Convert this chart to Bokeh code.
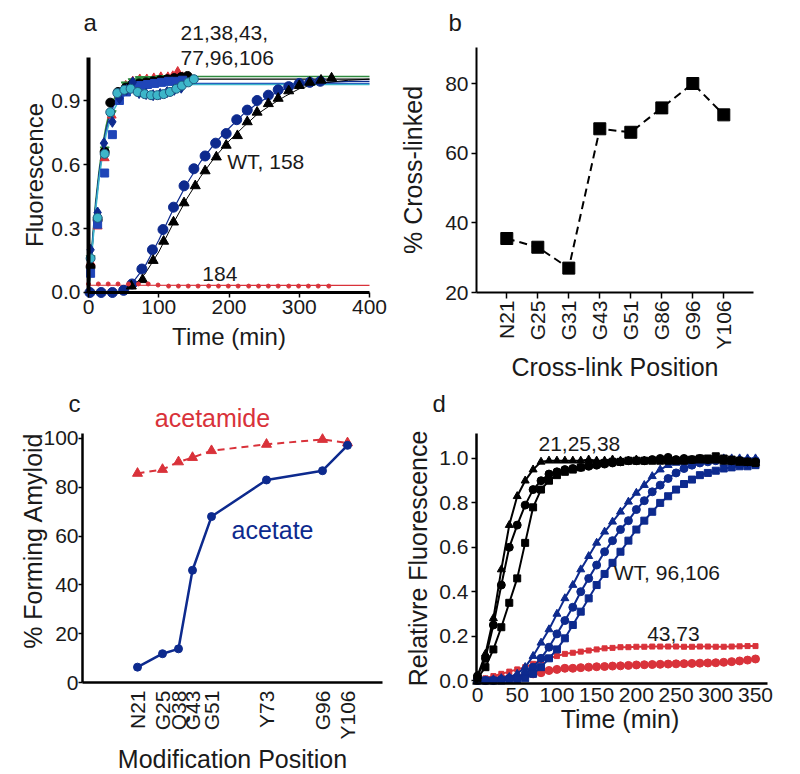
import math
from bokeh.plotting import figure
from bokeh.layouts import row, column
from bokeh.models import FixedTicker, Label, Range1d, NumeralTickFormatter
from bokeh.embed import file_html
from bokeh.resources import INLINE

FONT = "Liberation Sans"
INK = "#1a1a1a"

# ---------------- panel a data ----------------
a_x_ticks = [0, 100, 200, 300, 400]
a_y_ticks = [0.0, 0.3, 0.6, 0.9]

a_black_t = [3, 13, 23, 31, 42, 53, 62, 72, 82, 92, 102, 112, 122, 132, 141]
a_black_v = [0.12, 0.34, 0.66, 0.89, 0.94, 0.96, 0.975, 0.98, 0.985, 0.99, 0.995, 1.0, 1.005, 1.01, 1.015]
a_bsq_t = [3, 13, 23, 34, 44, 54, 64, 74, 84, 94, 104, 114, 124, 134]
a_bsq_v = [0.09, 0.32, 0.56, 0.74, 0.9, 0.94, 0.96, 0.97, 0.975, 0.98, 0.985, 0.99, 0.99, 0.995]
a_red_t = [3, 13, 23, 33, 43, 53, 63, 73, 83, 93, 103, 113, 120, 127, 134]
a_red_v = [0.14, 0.31, 0.63, 0.83, 0.93, 0.97, 0.99, 1.0, 1.0, 1.005, 1.01, 1.01, 1.015, 1.035, 1.01]
a_green_t = [3, 13, 23, 33, 43, 53, 63, 73, 83, 93, 103, 113, 123]
a_green_v = [0.16, 0.34, 0.67, 0.84, 0.94, 0.975, 0.99, 1.0, 1.0, 1.0, 1.005, 1.005, 1.005]
a_dia_t = [3, 13, 22, 34, 44, 54, 63, 72, 82, 92, 102, 112, 122, 132]
a_dia_v = [0.2, 0.375, 0.7, 0.8, 0.91, 0.95, 0.985, 0.935, 0.93, 0.925, 0.93, 0.94, 0.95, 0.96]
a_cyan_t = [3, 13, 23, 31, 41, 51, 60, 70, 80, 89, 98, 107, 116, 125, 133, 142, 150]
a_cyan_v = [0.16, 0.35, 0.65, 0.845, 0.935, 0.95, 0.955, 0.94, 0.93, 0.925, 0.925, 0.93, 0.94, 0.955, 0.97, 0.985, 1.0]

a_fit_t = [0, 5, 10, 15, 20, 25, 30, 35, 40, 50, 60, 80, 100, 150, 400]
a_fit_green = [0, 0.22, 0.42, 0.57, 0.69, 0.78, 0.85, 0.9, 0.93, 0.97, 0.99, 1.005, 1.01, 1.012, 1.012]
a_fit_black = [0, 0.2, 0.4, 0.55, 0.67, 0.76, 0.83, 0.88, 0.92, 0.96, 0.98, 0.995, 1.0, 1.0, 1.0]
a_fit_blue = [0, 0.21, 0.4, 0.55, 0.67, 0.76, 0.82, 0.87, 0.9, 0.94, 0.96, 0.975, 0.978, 0.98, 0.98]
a_fit_cyan = [0, 0.19, 0.38, 0.53, 0.65, 0.74, 0.8, 0.85, 0.88, 0.92, 0.945, 0.965, 0.97, 0.975, 0.975]

a_wt_t = [2, 18, 34, 50, 62, 76, 91, 106, 121, 136, 150, 166, 181, 196, 211, 226, 240, 256, 270, 285, 300, 315, 330]
a_wt_v = [0, 0, 0, 0.01, 0.04, 0.11, 0.2, 0.295, 0.4, 0.5, 0.58, 0.64, 0.7, 0.745, 0.81, 0.855, 0.9, 0.925, 0.95, 0.965, 0.98, 0.985, 0.99]
a_158_t = [61, 77, 92, 107, 121, 136, 152, 166, 182, 196, 212, 226, 240, 256, 270, 285, 300, 315, 331, 346]
a_158_v = [0.03, 0.06, 0.15, 0.24, 0.33, 0.42, 0.5, 0.57, 0.635, 0.69, 0.735, 0.8, 0.845, 0.885, 0.91, 0.945, 0.97, 0.985, 0.995, 1.005]
a_slowfit_t = [45, 60, 80, 100, 120, 140, 160, 180, 200, 220, 240, 260, 280, 300, 320, 340, 370, 400]
a_wtfit_v = [0, 0.035, 0.12, 0.245, 0.385, 0.51, 0.615, 0.7, 0.77, 0.835, 0.885, 0.925, 0.955, 0.97, 0.98, 0.985, 0.99, 0.99]
a_158fit_v = [0, 0.02, 0.085, 0.19, 0.32, 0.44, 0.545, 0.635, 0.71, 0.775, 0.835, 0.88, 0.92, 0.955, 0.975, 0.985, 0.995, 1.0]
a_184_t = [0, 14, 28, 42, 57, 71, 85, 99, 114, 128, 142, 156, 171, 185, 199, 213, 228, 242, 256, 270, 285, 299, 313, 327, 342]
a_184_v = [0.04, 0.04, 0.04, 0.04, 0.04, 0.04, 0.04, 0.035, 0.03, 0.03, 0.03, 0.03, 0.03, 0.03, 0.03, 0.03, 0.03, 0.03, 0.03, 0.03, 0.03, 0.03, 0.03, 0.03, 0.03]
a_184fit_t = [0, 400]
a_184fit_v = [0.034, 0.033]

# ---------------- panel b data ----------------
b_cats = ["N21", "G25", "G31", "G43", "G51", "G86", "G96", "Y106"]
b_vals = [35.5, 33, 27, 67, 66, 73, 80, 71]
b_y_ticks = [20, 40, 60, 80]

# ---------------- panel c data ----------------
c_cats = ["N21", "G25", "Q38", "G43", "G51", "Y73", "G96", "Y106"]
c_pos = [2.2, 3.2, 3.84, 4.4, 5.16, 7.36, 9.6, 10.6]
c_acetate = [6.3, 11.8, 13.8, 46, 68, 83, 86.8, 97.2]
c_acetamide = [85.7, 87.3, 90.4, 92.2, 95, 97.6, 99.6, 98.2]
c_y_ticks = [0, 20, 40, 60, 80, 100]

# ---------------- panel d data ----------------
d_t = [0, 10, 20, 30, 40, 50, 60, 70, 80, 90, 100, 110, 120, 130, 140, 150, 160, 170,
       180, 190, 200, 210, 220, 230, 240, 250, 260, 270, 280, 290, 300, 310, 320, 330, 340, 350]
d_black_tri = [0.02, 0.12, 0.28, 0.5, 0.7, 0.83, 0.9, 0.95, 0.985, 0.99, 0.99, 0.99, 0.99, 0.99, 0.995, 0.99, 0.99, 0.995,
               0.99, 0.99, 0.995, 0.99, 0.99, 0.995, 0.99, 0.99, 0.99, 0.99, 0.99, 0.99, 0.99, 0.985, 0.985, 0.98, 0.98, 0.98]
d_black_circ = [0.02, 0.1, 0.25, 0.43, 0.6, 0.7, 0.79, 0.86, 0.9, 0.93, 0.94, 0.95, 0.955, 0.96, 0.965, 0.97, 0.975, 0.98,
                0.985, 0.99, 0.99, 0.99, 0.995, 1.0, 1.005, 0.995, 1.0, 0.995, 1.0, 0.995, 1.0, 0.995, 0.99, 0.99, 0.985, 0.985]
d_black_sq = [0.01, 0.06, 0.14, 0.24, 0.35, 0.46, 0.62, 0.78, 0.86, 0.9, 0.925, 0.94, 0.95, 0.96, 0.97, 0.975, 0.98, 0.985,
              0.985, 0.99, 0.99, 0.99, 0.99, 0.99, 0.99, 0.99, 0.99, 0.995, 1.0, 1.0, 1.01, 1.0, 0.995, 0.99, 0.985, 0.98]
d_blue_tri = [0, 0, 0.005, 0.01, 0.015, 0.03, 0.06, 0.11, 0.17, 0.23, 0.3, 0.37, 0.43, 0.5, 0.56, 0.62, 0.67, 0.715,
              0.76, 0.805, 0.845, 0.88, 0.92, 0.95, 0.97, 0.98, 0.985, 0.99, 0.99, 0.995, 0.995, 1.0, 1.0, 1.0, 1.0, 1.0]
d_blue_circ = [0, 0, 0, 0.005, 0.01, 0.01, 0.03, 0.06, 0.1, 0.15, 0.21, 0.27, 0.33, 0.4, 0.46, 0.52, 0.58, 0.63,
               0.68, 0.72, 0.77, 0.81, 0.85, 0.88, 0.91, 0.935, 0.955, 0.97, 0.98, 0.985, 0.99, 0.99, 0.99, 0.99, 0.99, 0.99]
d_blue_sq = [0, 0, 0, 0, 0.005, 0.005, 0.01, 0.03, 0.06, 0.1, 0.14, 0.19, 0.25, 0.31, 0.37, 0.43, 0.48, 0.53,
             0.58, 0.63, 0.68, 0.72, 0.76, 0.8, 0.83, 0.86, 0.885, 0.905, 0.925, 0.935, 0.945, 0.955, 0.96, 0.965, 0.965, 0.97]
d_red_sq = [0, 0.01, 0.02, 0.03, 0.04, 0.05, 0.06, 0.075, 0.09, 0.1, 0.11, 0.12, 0.125, 0.13, 0.135, 0.14, 0.145, 0.147,
            0.15, 0.15, 0.152, 0.152, 0.153, 0.153, 0.153, 0.153, 0.152, 0.152, 0.153, 0.153, 0.152, 0.152, 0.153, 0.154, 0.155, 0.155]
d_red_circ = [0, 0, 0.005, 0.01, 0.01, 0.015, 0.02, 0.03, 0.035, 0.045, 0.05, 0.055, 0.055, 0.058, 0.06, 0.062, 0.063, 0.065,
              0.066, 0.068, 0.07, 0.071, 0.072, 0.073, 0.074, 0.075, 0.076, 0.077, 0.078, 0.079, 0.08, 0.082, 0.085, 0.088, 0.092, 0.097]
d_x_ticks = [0, 50, 100, 150, 200, 250, 300, 350]
d_y_ticks = [0.0, 0.2, 0.4, 0.6, 0.8, 1.0]

# colours
NAVY = "#0d2a8e"
RED = "#d9323a"
GREEN = "#2e8a3e"
CYAN = "#3db6c9"
BLUE = "#1f45b8"


def make_fig(w, h, xr, yr):
    # the frame fills the whole canvas; axes are pinned inside it with fixed_location
    p = figure(width=w, height=h, x_range=Range1d(*xr), y_range=Range1d(*yr),
               output_backend="svg", toolbar_location=None, title=None,
               min_border_left=0, min_border_right=0, min_border_top=0, min_border_bottom=0)
    p.xgrid.visible = False
    p.ygrid.visible = False
    p.outline_line_color = None
    p.background_fill_color = "white"
    p.border_fill_color = "white"
    return p


def style_axis(ax, lw, tick_out, label_size, title_size, label_standoff, title_standoff, loc, bounds):
    ax.fixed_location = loc
    ax.bounds = bounds
    ax.axis_line_width = lw
    ax.axis_line_color = "black"
    ax.major_tick_line_width = 1.5
    ax.major_tick_line_color = "black"
    ax.major_tick_out = tick_out
    ax.major_tick_in = 0
    ax.minor_tick_out = 0
    ax.minor_tick_in = 0
    ax.major_label_text_font = FONT
    ax.major_label_text_font_size = f"{label_size}px"
    ax.major_label_text_color = INK
    ax.major_label_standoff = label_standoff
    ax.axis_label_text_font = FONT
    ax.axis_label_text_font_size = f"{title_size}px"
    ax.axis_label_text_font_style = "normal"
    ax.axis_label_text_color = INK
    ax.axis_label_standoff = title_standoff


def add_label(p, x, y, text, size, color=INK, align="left", angle=0.0):
    p.add_layout(Label(x=x, y=y, text=text, text_font=FONT, text_font_size=f"{size}px",
                       text_color=color, text_align=align, text_baseline="middle", angle=angle))


# ---------------- panel a ----------------
pa = make_fig(400, 390, (-125.27, 444.13), (-0.4594, 1.3688))
pa.xaxis.ticker = FixedTicker(ticks=a_x_ticks)
pa.yaxis.ticker = FixedTicker(ticks=a_y_ticks)
pa.yaxis.formatter = NumeralTickFormatter(format="0.0")
pa.xaxis.axis_label = "Time (min)"
pa.yaxis.axis_label = "Fluorescence"
style_axis(pa.xaxis[0], 3, 5, 21, 24, 3, 5, 0, (0, 400))
style_axis(pa.yaxis[0], 4, 5, 21, 24, 3, 0, 0, (0, 1.102))

pa.line(a_fit_t, a_fit_green, line_color=GREEN, line_width=1.5)
pa.line(a_fit_t, a_fit_black, line_color="black", line_width=1.2)
pa.line(a_fit_t, a_fit_blue, line_color=BLUE, line_width=1.5)
pa.line(a_fit_t, a_fit_cyan, line_color=CYAN, line_width=1.5)
pa.line(a_slowfit_t, a_wtfit_v, line_color=NAVY, line_width=1.2)
pa.line(a_slowfit_t, a_158fit_v, line_color="black", line_width=1.0)
pa.line(a_184fit_t, a_184fit_v, line_color=RED, line_width=1.2)

pa.scatter(a_red_t, a_red_v, marker="triangle", size=9, color=RED)
pa.scatter(a_green_t, a_green_v, marker="inverted_triangle", size=9, color=GREEN)
pa.scatter(a_black_t, a_black_v, marker="circle", size=9, color="black")
pa.scatter(a_bsq_t, a_bsq_v, marker="square", size=8, color=BLUE)
pa.scatter(a_dia_t, a_dia_v, marker="diamond", size=11, color=NAVY)
pa.scatter(a_cyan_t, a_cyan_v, marker="circle", size=9, fill_color=CYAN, line_color="#1d5a80")
pa.scatter(a_wt_t, a_wt_v, marker="circle", size=10, color=NAVY)
pa.scatter(a_158_t, a_158_v, marker="triangle", size=10, color="black")
pa.scatter(a_184_t, a_184_v, marker="circle", size=4, color=RED)

add_label(pa, -7, 1.266, "a", 24)
add_label(pa, 131, 1.217, "21,38,43,", 21)
add_label(pa, 131, 1.10, "77,96,106", 21)
add_label(pa, 197.5, 0.614, "WT, 158", 21)
add_label(pa, 162, 0.0875, "184", 21)

# ---------------- panel b ----------------
b_x = list(range(1, len(b_cats) + 1))
pb = make_fig(400, 390, (-2.429, 10.474), (-8.134, 103.83))
pb.xaxis.ticker = FixedTicker(ticks=b_x)
pb.xaxis.major_label_overrides = {i: c for i, c in zip(b_x, b_cats)}
pb.xaxis.major_label_orientation = math.pi / 2
pb.yaxis.ticker = FixedTicker(ticks=b_y_ticks)
pb.xaxis.axis_label = "Cross-link Position"
pb.yaxis.axis_label = "% Cross-linked"
style_axis(pb.xaxis[0], 2, 6, 21, 25, 2, 0, 20, (0.023, 8.958))
style_axis(pb.yaxis[0], 2, 5, 21, 25, 3, 15, 0.023, (20, 90.33))
pb.line(b_x, b_vals, line_color="black", line_width=2, line_dash="8 5")
pb.scatter(b_x, b_vals, marker="square", size=12, color="black")
add_label(pb, -0.88, 97.5, "b", 24)

# ---------------- panel c ----------------
pc = make_fig(400, 384, (-3.28, 12.72), (-37.70, 119.67))
pc.xaxis.ticker = FixedTicker(ticks=c_pos)
pc.xaxis.major_label_overrides = {x: c for x, c in zip(c_pos, c_cats)}
pc.xaxis.major_label_orientation = math.pi / 2
pc.yaxis.ticker = FixedTicker(ticks=c_y_ticks)
pc.xaxis.axis_label = "Modification Position"
style_axis(pc.xaxis[0], 2.5, 0, 21, 25, 8, 2, 0, (0, 12))
style_axis(pc.yaxis[0], 2.5, 4, 21, 25, 0, 0, 0, (0, 102))
pc.line(c_pos, c_acetamide, line_color=RED, line_width=2, line_dash="7 5")
pc.scatter(c_pos, c_acetamide, marker="triangle", size=10, color=RED)
pc.line(c_pos, c_acetate, line_color=NAVY, line_width=2.5)
pc.scatter(c_pos, c_acetate, marker="circle", size=8, color=NAVY)
add_label(pc, -2.0, 58.2, "% Forming Amyloid", 25, align="center", angle=math.pi / 2)
add_label(pc, -0.56, 114.3, "c", 24)
add_label(pc, 5.2, 108.6, "acetamide", 25, color=RED, align="center")
add_label(pc, 7.6, 62.3, "acetate", 25, color=NAVY, align="center")

# ---------------- panel d ----------------
pd_ = make_fig(400, 384, (-96.94, 406.65), (-0.4234, 1.3063))
pd_.xaxis.ticker = FixedTicker(ticks=d_x_ticks)
pd_.yaxis.ticker = FixedTicker(ticks=d_y_ticks)
pd_.yaxis.formatter = NumeralTickFormatter(format="0.0")
pd_.xaxis.axis_label = "Time (min)"
pd_.yaxis.axis_label = "Relativre Fluorescence"
style_axis(pd_.xaxis[0], 2.5, 0, 21, 25, 4, 0, -0.0135, (-6.3, 365))
style_axis(pd_.yaxis[0], 2.5, 5, 21, 25, 3, 4, -1.26, (-0.0135, 1.1126))

for vals, mk, sz in [(d_red_sq, "square", 5), (d_red_circ, "circle", 8)]:
    pd_.line(d_t, vals, line_color=RED, line_width=2)
    pd_.scatter(d_t, vals, marker=mk, size=sz, color=RED)
for vals, mk, sz in [(d_blue_tri, "triangle", 8), (d_blue_circ, "circle", 8), (d_blue_sq, "square", 7)]:
    pd_.line(d_t, vals, line_color=NAVY, line_width=2)
    pd_.scatter(d_t, vals, marker=mk, size=sz, color=NAVY)
for vals, mk, sz in [(d_black_tri, "triangle", 8), (d_black_circ, "circle", 8), (d_black_sq, "square", 7)]:
    pd_.line(d_t, vals, line_color="black", line_width=2)
    pd_.scatter(d_t, vals, marker=mk, size=sz, color="black")
add_label(pd_, -56.7, 1.248, "d", 24)
add_label(pd_, 76.8, 1.066, "21,25,38", 21)
add_label(pd_, 171.6, 0.488, "WT, 96,106", 21)
add_label(pd_, 213.6, 0.21, "43,73", 21)

layout = column(row(pa, pb), row(pc, pd_))
open("out.html", "w").write(file_html(layout, INLINE))
